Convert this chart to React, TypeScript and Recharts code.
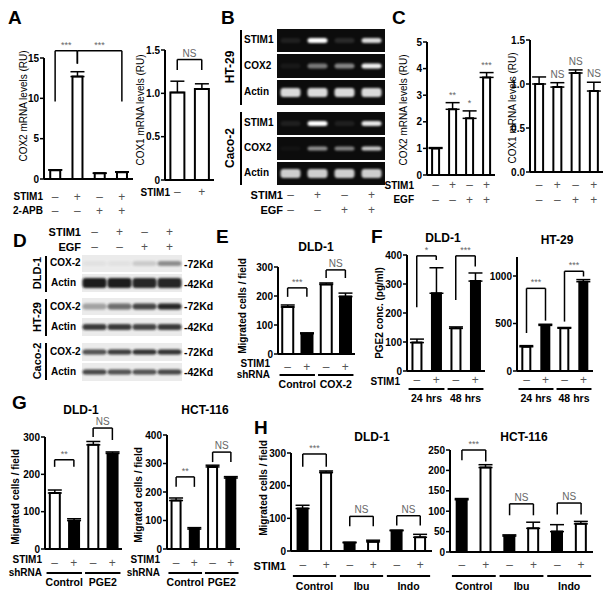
import React from 'react';
import { BarChart, Bar, XAxis, YAxis, Cell, ErrorBar, LabelList, ReferenceLine } from 'recharts';

const FONT = '"Liberation Sans", Arial, sans-serif';

// ---------- A ----------
const aStim = ['–', '+', '–', '+'];
const aApb = ['–', '–', '+', '+'];
const aCox2 = [1.1, 12.7, 0.7, 0.85];
const aCox2Err = [0.05, 0.6, 0.04, 0.05];
const aCox1Stim = ['–', '+'];
const aCox1 = [1.01, 1.05];
const aCox1Err = [0.13, 0.06];

// ---------- C ----------
const cStim = ['–', '+', '–', '+'];
const cEgf = ['–', '–', '+', '+'];
const cCox2 = [1.0, 2.47, 2.13, 3.67];
const cCox2Err = [0.03, 0.25, 0.28, 0.18];
const cCox2Sig = ['', '**', '*', '***'];
const cCox1 = [1.0, 0.965, 1.125, 0.92];
const cCox1Err = [0.08, 0.05, 0.035, 0.1];
const cCox1Sig = ['', 'NS', 'NS', 'NS'];

// ---------- E ----------
const pairStim = ['–', '+', '–', '+'];
const eMig = [162, 70, 240, 198];
const eMigErr = [7, 3, 5, 12];
const eGroups = ['Control', 'COX-2'];

// ---------- F ----------
const fDld = [98, 268, 147, 310];
const fDldErr = [12, 88, 5, 28];
const fHt = [255, 480, 450, 940];
const fHtErr = [12, 12, 8, 22];
const fGroups = ['24 hrs', '48 hrs'];

// ---------- G ----------
const gDld = [150, 76, 279, 256];
const gDldErr = [8, 5, 9, 4];
const gHct = [170, 70, 288, 249];
const gHctErr = [9, 5, 6, 5];
const gGroups = ['Control', 'PGE2'];

// ---------- H ----------
const hStim = ['–', '+', '–', '+', '–', '+'];
const hDld = [130, 240, 25, 28, 62, 42];
const hDldErr = [10, 5, 2, 5, 2, 9];
const hHct = [128, 207, 39, 58, 50, 69];
const hHctErr = [3, 7, 3, 15, 17, 6];
const hGroups = ['Control', 'Ibu', 'Indo'];

// significance brackets: bar a to bar b, top value, leg ends, text
const aCox2Br = [
  { a: 0, b: 1, top: 15.9, la: 9.6, lb: 14.3, text: '***' },
  { a: 1, b: 3, top: 15.9, la: 14.3, lb: 9.6, text: '***' },
];
const aCox1Br = [{ a: 0, b: 1, top: 1.39, la: 1.27, lb: 1.27, text: 'NS' }];
const eBr = [
  { a: 0, b: 1, top: 228, la: 197, lb: 197, text: '***' },
  { a: 2, b: 3, top: 290, la: 262, lb: 262, text: 'NS' },
];
const fDldBr = [
  { a: 0, b: 1, top: 397, la: 220, lb: 383, text: '*' },
  { a: 2, b: 3, top: 397, la: 245, lb: 360, text: '***' },
];
const fHtBr = [
  { a: 0, b: 1, top: 870, la: 400, lb: 530, text: '***' },
  { a: 2, b: 3, top: 1050, la: 520, lb: 995, text: '***' },
];
const gDldBr = [
  { a: 0, b: 1, top: 239, la: 220, lb: 220, text: '**' },
  { a: 2, b: 3, top: 324, la: 300, lb: 292, text: 'NS' },
];
const gHctBr = [
  { a: 0, b: 1, top: 253, la: 218, lb: 218, text: '**' },
  { a: 2, b: 3, top: 340, la: 305, lb: 305, text: 'NS' },
];
const hDldBr = [
  { a: 0, b: 1, top: 297, la: 258, lb: 258, text: '***' },
  { a: 2, b: 3, top: 106, la: 76, lb: 76, text: 'NS' },
  { a: 4, b: 5, top: 108, la: 78, lb: 78, text: 'NS' },
];
const hHctBr = [
  { a: 0, b: 1, top: 250, la: 225, lb: 222, text: '***' },
  { a: 2, b: 3, top: 118, la: 90, lb: 90, text: 'NS' },
  { a: 4, b: 5, top: 120, la: 92, lb: 92, text: 'NS' },
];

// gel (B) band intensities per lane
const gelHtStim = [0.08, 1, 0.12, 0.85];
const gelHtCox = [0.05, 0.45, 0.5, 0.95];
const gelHtActin = [0.85, 0.85, 0.85, 0.85];
const gelCaStim = [0.08, 1, 0.08, 0.9];
const gelCaCox = [0.03, 0.55, 0.5, 0.8];
const gelCaActin = [0.8, 0.8, 0.8, 0.8];
const gelStim = ['–', '+', '–', '+'];
const gelEgf = ['–', '–', '+', '+'];

// western blot (D) band intensities per lane
const blotDldCox = [0.04, 0.04, 0.15, 0.45];
const blotDldActin = [1, 1, 0.95, 0.95];
const blotHtCox = [0.35, 0.6, 0.8, 0.95];
const blotHtActin = [0.85, 0.85, 0.8, 0.85];
const blotCaCox = [0.75, 0.85, 0.9, 0.9];
const blotCaActin = [0.8, 0.75, 0.75, 0.8];

const mk = (v: number[], e: number[], sig?: string[]) =>
  v.map((val, i) => ({ name: String(i), v: val, err: e[i], sig: sig ? sig[i] : '' }));

const whiteIfMinus = (s: string[]) => s.map((x) => (x === '+' ? '#000' : '#fff'));
const blackIfMinus = (s: string[]) => s.map((x) => (x === '+' ? '#fff' : '#000'));
const allWhite = (n: number) => Array.from({ length: n }, () => '#fff');

type Bracket = { a: number; b: number; top: number; la: number; lb: number; text: string };
type Row = { y: number; signs: string[] };
type Groups = { lineY: number; labelY: number; labels: string[] };

function BarPanel(p: {
  x0: number; x1: number; yTop: number; y0: number;
  domain: [number, number]; ticks: number[]; fmt?: (v: number) => string;
  data: { name: string; v: number; err: number; sig: string }[];
  fills: string[]; rows: Row[]; groups?: Groups; brackets?: Bracket[]; gap?: string;
}) {
  const YW = 40, MT = 30, MR = 4, XH = 50;
  const w = p.x1 - p.x0, h = p.y0 - p.yTop;
  const bw = w / p.data.length;
  const brackets = p.brackets || [];

  const tick = (props: any) => {
    const { x, y } = props;
    const i = props.index ?? props.payload?.index ?? 0;
    return (
      <g>
        {p.rows.map((r, k) => (
          <text key={k} x={x} y={y + r.y - p.y0} textAnchor="middle" dominantBaseline="central" fontSize={12} fill="#555">
            {r.signs[i]}
          </text>
        ))}
        {p.groups && i % 2 === 0 && (
          <g>
            <line x1={x - bw * 0.42} x2={x + bw * 1.42} y1={y + p.groups.lineY - p.y0} y2={y + p.groups.lineY - p.y0} stroke="#000" strokeWidth={2} />
            <text x={x + bw / 2} y={y + p.groups.labelY - p.y0} textAnchor="middle" dominantBaseline="central" fontSize={10.5} fontWeight="bold" fill="#000">
              {p.groups.labels[i / 2]}
            </text>
          </g>
        )}
      </g>
    );
  };

  const sigLabel = (props: any) => {
    const vb = props.viewBox ?? props;
    const i = props.index;
    if (!props.value || i == null) return null;
    const d = p.data[i];
    const hh = Math.abs(vb.height);
    const ePx = d.v ? (d.err / d.v) * hh : 0;
    const top = Math.min(vb.y, vb.y + vb.height);
    return (
      <text x={vb.x + vb.width / 2} y={top - ePx - 5} textAnchor="middle" fontSize={props.value === 'NS' ? 10 : 9} fill="#666">
        {props.value}
      </text>
    );
  };

  return (
    <div style={{ position: 'absolute', left: p.x0 - YW, top: p.yTop - MT }}>
      <BarChart
        width={w + YW + MR}
        height={h + MT + XH}
        data={p.data}
        margin={{ top: MT, right: MR, left: 0, bottom: 0 }}
        barCategoryGap={p.gap || '25%'}
      >
        <XAxis dataKey="name" interval={0} height={XH} tickLine={false} tickSize={0} tickMargin={0}
          axisLine={{ stroke: '#000', strokeWidth: 2 }} tick={tick} />
        <YAxis width={YW} type="number" domain={p.domain} ticks={p.ticks} allowDataOverflow
          tickFormatter={p.fmt} axisLine={{ stroke: '#000', strokeWidth: 2 }}
          tickLine={{ stroke: '#000', strokeWidth: 1.5 }} tickSize={4} tickMargin={1}
          tick={{ fill: '#000', fontSize: 10, fontWeight: 'bold' }} />
        <Bar dataKey="v" isAnimationActive={false} stroke="#000" strokeWidth={2}>
          {p.data.map((d, i) => (
            <Cell key={i} fill={p.fills[i]} />
          ))}
          <ErrorBar dataKey={(d: any) => [0, d.err]} width={7} stroke="#000" strokeWidth={1.5} direction="y" />
          <LabelList dataKey="sig" content={sigLabel} />
        </Bar>
        {brackets.map((b, k) => (
          <ReferenceLine key={'h' + k} ifOverflow="visible" stroke="#000" strokeWidth={1.5}
            segment={[{ x: String(b.a), y: b.top }, { x: String(b.b), y: b.top }]}
            label={{ value: b.text, position: 'top', fill: '#666', fontSize: b.text === 'NS' ? 10 : 9, offset: 3 }} />
        ))}
        {brackets.map((b, k) => (
          <ReferenceLine key={'l' + k} ifOverflow="visible" stroke="#000" strokeWidth={1.5}
            segment={[{ x: String(b.a), y: b.top }, { x: String(b.a), y: b.la }]} />
        ))}
        {brackets.map((b, k) => (
          <ReferenceLine key={'r' + k} ifOverflow="visible" stroke="#000" strokeWidth={1.5}
            segment={[{ x: String(b.b), y: b.top }, { x: String(b.b), y: b.lb }]} />
        ))}
      </BarChart>
    </div>
  );
}

function Txt({ x, y, a = 'start', s = 10, w = 700, c = '#000', rot = false, children }: any) {
  const tx = a === 'start' ? '0' : a === 'middle' ? '-50%' : '-100%';
  return (
    <div style={{
      position: 'absolute', left: x, top: y, fontSize: s, fontWeight: w, color: c, lineHeight: 1,
      whiteSpace: 'nowrap', transform: rot ? 'translate(-50%, -50%) rotate(-90deg)' : `translate(${tx}, -50%)`,
    }}>
      {children}
    </div>
  );
}

function Blots() {
  const gx = 277, gw = 108;
  const gLane = (i: number) => gx + ((i + 0.5) * gw) / 4;
  const gelRows = [
    { y: 29, h: 23, vals: gelHtStim, bh: 5 },
    { y: 54, h: 24, vals: gelHtCox, bh: 5 },
    { y: 80, h: 25, vals: gelHtActin, bh: 9 },
    { y: 112, h: 23, vals: gelCaStim, bh: 5 },
    { y: 137, h: 23, vals: gelCaCox, bh: 4 },
    { y: 162, h: 23, vals: gelCaActin, bh: 9 },
  ];
  const bx = 82, bwid = 100;
  const bLane = (i: number) => bx + ((i + 0.5) * bwid) / 4;
  const blotRows = [
    { y: 255, h: 17, vals: blotDldCox, bh: 5 },
    { y: 274, h: 18, vals: blotDldActin, bh: 10 },
    { y: 298, h: 17, vals: blotHtCox, bh: 6 },
    { y: 318, h: 18, vals: blotHtActin, bh: 6 },
    { y: 343, h: 18, vals: blotCaCox, bh: 5 },
    { y: 363, h: 18, vals: blotCaActin, bh: 5 },
  ];
  return (
    <svg width={613} height={598} style={{ position: 'absolute', left: 0, top: 0 }}>
      <defs>
        <filter id="gblur" x="-50%" y="-100%" width="200%" height="300%">
          <feGaussianBlur stdDeviation="1.3" />
        </filter>
      </defs>
      {gelRows.map((r, k) => (
        <g key={k}>
          <rect x={gx} y={r.y} width={gw} height={r.h} fill="#0c0c0c" />
          {r.vals.map((v, i) => (
            <rect key={i} x={gLane(i) - 10} y={r.y + r.h / 2 - r.bh / 2} width={20} height={r.bh} rx={3}
              fill="#fff" opacity={v} filter="url(#gblur)" />
          ))}
        </g>
      ))}
      {blotRows.map((r, k) => (
        <g key={k}>
          <rect x={bx} y={r.y} width={bwid} height={r.h} fill="#ebebeb" />
          {r.vals.map((v, i) => (
            <rect key={i} x={bLane(i) - 12} y={r.y + r.h / 2 - r.bh / 2} width={24} height={r.bh} rx={3}
              fill="#1a1a1a" opacity={v} filter="url(#gblur)" />
          ))}
        </g>
      ))}
      {/* bracket bars for cell line labels */}
      <line x1={241} x2={241} y1={30} y2={105} stroke="#000" strokeWidth={2} />
      <line x1={241} x2={241} y1={112} y2={185} stroke="#000" strokeWidth={2} />
      <line x1={46} x2={46} y1={256} y2={292} stroke="#000" strokeWidth={2} />
      <line x1={46} x2={46} y1={299} y2={336} stroke="#000" strokeWidth={2} />
      <line x1={46} x2={46} y1={343} y2={380} stroke="#000" strokeWidth={2} />
      {gelStim.map((s, i) => (
        <text key={'s' + i} x={gLane(i)} y={195} textAnchor="middle" dominantBaseline="central" fontSize={12} fill="#555">{s}</text>
      ))}
      {gelEgf.map((s, i) => (
        <text key={'e' + i} x={gLane(i)} y={210} textAnchor="middle" dominantBaseline="central" fontSize={12} fill="#555">{s}</text>
      ))}
      {gelStim.map((s, i) => (
        <text key={'ds' + i} x={bLane(i)} y={232} textAnchor="middle" dominantBaseline="central" fontSize={12} fill="#555">{s}</text>
      ))}
      {gelEgf.map((s, i) => (
        <text key={'de' + i} x={bLane(i)} y={247} textAnchor="middle" dominantBaseline="central" fontSize={12} fill="#555">{s}</text>
      ))}
    </svg>
  );
}

const fmt1 = (v: number) => v.toFixed(1);
const fmt1z = (v: number) => (v === 0 ? '0' : v.toFixed(1));

export default function App() {
  return (
    <div style={{ position: 'absolute', left: 0, top: 0, width: 613, height: 598, background: '#fff', fontFamily: FONT, overflow: 'hidden' }}>
      <Blots />

      {/* A */}
      <BarPanel x0={44} x1={133} yTop={58} y0={179} domain={[0, 15]} ticks={[0, 5, 10, 15]}
        data={mk(aCox2, aCox2Err)} fills={allWhite(4)} gap="28%"
        rows={[{ y: 197, signs: aStim }, { y: 211, signs: aApb }]} brackets={aCox2Br} />
      <BarPanel x0={165} x1={214} yTop={50} y0={180} domain={[0, 1.5]} ticks={[0, 0.5, 1, 1.5]} fmt={fmt1z}
        data={mk(aCox1, aCox1Err)} fills={allWhite(2)} gap="22%"
        rows={[{ y: 192, signs: aCox1Stim }]} brackets={aCox1Br} />

      {/* C */}
      <BarPanel x0={427} x1={495} yTop={42} y0={175} domain={[0, 5]} ticks={[0, 1, 2, 3, 4, 5]}
        data={mk(cCox2, cCox2Err, cCox2Sig)} fills={allWhite(4)} gap="30%"
        rows={[{ y: 185, signs: cStim }, { y: 200, signs: cEgf }]} />
      <BarPanel x0={530} x1={603} yTop={40} y0={172} domain={[0, 1.5]} ticks={[0, 0.5, 1, 1.5]} fmt={fmt1}
        data={mk(cCox1, cCox1Err, cCox1Sig)} fills={allWhite(4)} gap="28%"
        rows={[{ y: 185, signs: cStim }, { y: 200, signs: cEgf }]} />

      {/* E */}
      <BarPanel x0={278} x1={355} yTop={267} y0={354} domain={[0, 300]} ticks={[0, 100, 200, 300]}
        data={mk(eMig, eMigErr)} fills={whiteIfMinus(pairStim)} gap="22%"
        rows={[{ y: 367, signs: pairStim }]} groups={{ lineY: 375, labelY: 384, labels: eGroups }} brackets={eBr} />

      {/* F */}
      <BarPanel x0={407} x1={485} yTop={255} y0={371} domain={[0, 400]} ticks={[0, 100, 200, 300, 400]}
        data={mk(fDld, fDldErr)} fills={whiteIfMinus(pairStim)} gap="28%"
        rows={[{ y: 380, signs: pairStim }]} groups={{ lineY: 389, labelY: 398, labels: fGroups }} brackets={fDldBr} />
      <BarPanel x0={517} x1={593} yTop={257} y0={371} domain={[0, 1200]} ticks={[0, 500, 1000]}
        data={mk(fHt, fHtErr)} fills={whiteIfMinus(pairStim)} gap="28%"
        rows={[{ y: 380, signs: pairStim }]} groups={{ lineY: 389, labelY: 398, labels: fGroups }} brackets={fHtBr} />

      {/* G */}
      <BarPanel x0={45} x1={122} yTop={437} y0={549} domain={[0, 300]} ticks={[0, 100, 200, 300]}
        data={mk(gDld, gDldErr)} fills={whiteIfMinus(pairStim)} gap="25%"
        rows={[{ y: 563, signs: pairStim }]} groups={{ lineY: 573, labelY: 582, labels: gGroups }} brackets={gDldBr} />
      <BarPanel x0={167} x1={240} yTop={435} y0={549} domain={[0, 400]} ticks={[0, 100, 200, 300, 400]}
        data={mk(gHct, gHctErr)} fills={whiteIfMinus(pairStim)} gap="25%"
        rows={[{ y: 563, signs: pairStim }]} groups={{ lineY: 573, labelY: 582, labels: gGroups }} brackets={gHctBr} />

      {/* H */}
      <BarPanel x0={291} x1={432} yTop={453} y0={551} domain={[0, 300]} ticks={[0, 100, 200, 300]}
        data={mk(hDld, hDldErr)} fills={blackIfMinus(hStim)} gap="28%"
        rows={[{ y: 565, signs: hStim }]} groups={{ lineY: 576, labelY: 586, labels: hGroups }} brackets={hDldBr} />
      <BarPanel x0={450} x1={593} yTop={450} y0={552} domain={[0, 250]} ticks={[0, 50, 100, 150, 200, 250]}
        data={mk(hHct, hHctErr)} fills={blackIfMinus(hStim)} gap="28%"
        rows={[{ y: 565, signs: hStim }]} groups={{ lineY: 576, labelY: 586, labels: hGroups }} brackets={hHctBr} />

      {/* panel letters */}
      <Txt x={8} y={17} s={19}>A</Txt>
      <Txt x={221} y={17} s={19}>B</Txt>
      <Txt x={392} y={17} s={19}>C</Txt>
      <Txt x={13} y={240} s={19}>D</Txt>
      <Txt x={216} y={236} s={19}>E</Txt>
      <Txt x={371} y={236} s={19}>F</Txt>
      <Txt x={12} y={402} s={19}>G</Txt>
      <Txt x={254} y={427} s={19}>H</Txt>

      {/* axis titles */}
      <Txt x={24} y={106} s={10} w={400} rot>COX2 mRNA levels (RU)</Txt>
      <Txt x={141} y={110} s={10} w={400} rot>COX1 mRNA levels (RU)</Txt>
      <Txt x={404} y={110} s={10} w={400} rot>COX2 mRNA levels (RU)</Txt>
      <Txt x={513} y={108} s={10} w={400} rot>COX1 mRNA levels (RU)</Txt>
      <Txt x={243} y={306} s={10} rot>Migrated cells / field</Txt>
      <Txt x={380} y={313} s={10} rot>PGE2 conc. (pg/ml)</Txt>
      <Txt x={16} y={497} s={10} rot>Migrated cells / field</Txt>
      <Txt x={139} y={495} s={10} rot>Migrated cells / field</Txt>
      <Txt x={264} y={488} s={10} rot>Migrated cells / field</Txt>

      {/* chart titles */}
      <Txt x={316} y={247} a="middle" s={12}>DLD-1</Txt>
      <Txt x={443} y={238} a="middle" s={12}>DLD-1</Txt>
      <Txt x={557} y={240} a="middle" s={12}>HT-29</Txt>
      <Txt x={81} y={410} a="middle" s={12}>DLD-1</Txt>
      <Txt x={205} y={410} a="middle" s={12}>HCT-116</Txt>
      <Txt x={372} y={437} a="middle" s={12}>DLD-1</Txt>
      <Txt x={524} y={437} a="middle" s={12}>HCT-116</Txt>

      {/* row labels under charts */}
      <Txt x={43} y={197} a="end">STIM1</Txt>
      <Txt x={43} y={211} a="end">2-APB</Txt>
      <Txt x={170} y={193} a="end">STIM1</Txt>
      <Txt x={414} y={186} a="end">STIM1</Txt>
      <Txt x={414} y={200} a="end">EGF</Txt>
      <Txt x={283} y={195} a="end" s={11}>STIM1</Txt>
      <Txt x={283} y={210} a="end" s={11}>EGF</Txt>
      <Txt x={81} y={232} a="end" s={11}>STIM1</Txt>
      <Txt x={81} y={247} a="end" s={11}>EGF</Txt>
      <Txt x={270} y={364} a="end">STIM1</Txt>
      <Txt x={270} y={375} a="end">shRNA</Txt>
      <Txt x={400} y={382} a="end">STIM1</Txt>
      <Txt x={42} y={560} a="end">STIM1</Txt>
      <Txt x={42} y={573} a="end">shRNA</Txt>
      <Txt x={160} y={560} a="end">STIM1</Txt>
      <Txt x={160} y={573} a="end">shRNA</Txt>
      <Txt x={286} y={566} a="end" s={11}>STIM1</Txt>

      {/* gel labels (B) */}
      <Txt x={230} y={67} s={12} rot>HT-29</Txt>
      <Txt x={230} y={148} s={12} rot>Caco-2</Txt>
      <Txt x={244} y={40}>STIM1</Txt>
      <Txt x={244} y={66}>COX2</Txt>
      <Txt x={244} y={92}>Actin</Txt>
      <Txt x={244} y={123}>STIM1</Txt>
      <Txt x={244} y={148}>COX2</Txt>
      <Txt x={244} y={173}>Actin</Txt>

      {/* blot labels (D) */}
      <Txt x={37} y={273} s={11} rot>DLD-1</Txt>
      <Txt x={37} y={317} s={11} rot>HT-29</Txt>
      <Txt x={37} y={361} s={11} rot>Caco-2</Txt>
      <Txt x={50} y={263}>COX-2</Txt>
      <Txt x={51} y={283}>Actin</Txt>
      <Txt x={50} y={307}>COX-2</Txt>
      <Txt x={51} y={327}>Actin</Txt>
      <Txt x={50} y={352}>COX-2</Txt>
      <Txt x={51} y={372}>Actin</Txt>
      <Txt x={184} y={264} s={10.5}>-72Kd</Txt>
      <Txt x={184} y={284} s={10.5}>-42Kd</Txt>
      <Txt x={184} y={306} s={10.5}>-72Kd</Txt>
      <Txt x={184} y={327} s={10.5}>-42Kd</Txt>
      <Txt x={184} y={352} s={10.5}>-72Kd</Txt>
      <Txt x={184} y={372} s={10.5}>-42Kd</Txt>
    </div>
  );
}
